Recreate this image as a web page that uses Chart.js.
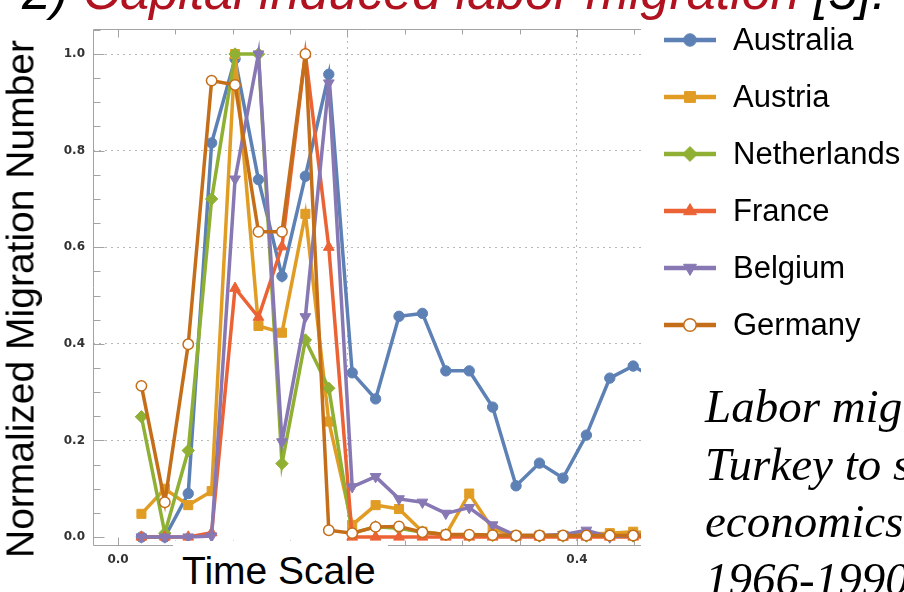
<!DOCTYPE html>
<html>
<head>
<meta charset="utf-8">
<script src="https://cdn.jsdelivr.net/npm/chart.js@4.4.1/dist/chart.umd.min.js"></script>
<style>
  html, body { margin: 0; padding: 0; background: #fff; overflow: hidden; }
  #wrap { position: relative; width: 904px; height: 592px; overflow: hidden; }
  canvas { position: absolute; left: 0; top: 0; }
  .txt { position: absolute; white-space: nowrap; color: #000; }
  #heading { left: 22px; top: -35px; font: italic 52px "Liberation Sans", Arial, sans-serif; line-height: 52px; }
  #heading .red { color: #b0121f; }
  #ytitle { left: 20px; top: 299px; font: 39px "Liberation Sans", Arial, sans-serif; line-height: 39px;
            transform: translate(-50%, -50%) rotate(-90deg); }
  #xcover { position: absolute; left: 173px; top: 541px; width: 215px; height: 51px; background: #fff; }
  #xtitle { left: 182px; top: 551px; font: 39px "Liberation Sans", Arial, sans-serif; line-height: 39px; }
  #note { left: 705px; top: 378px; font: italic 47px "Liberation Serif", "Times New Roman", serif; line-height: 57.5px; }
</style>
</head>
<body>
<div id="wrap">
  <canvas id="chart" width="904" height="592"></canvas>
  <div class="txt" id="heading">2) <span class="red">Capital induced labor migration</span> [5].</div>
  <div class="txt" id="ytitle">Normalized Migration Number</div>
  <div id="xcover"></div>
  <div class="txt" id="xtitle">Time Scale</div>
  <div class="txt" id="note">Labor migration from<br>Turkey to several<br>economics<br>1966-1990</div>
</div>
<script>
// time scale positions of the yearly samples
const timeScale = [0.0204, 0.0408, 0.0612, 0.0816, 0.1020, 0.1224, 0.1429, 0.1633, 0.1837, 0.2041,
  0.2245, 0.2449, 0.2653, 0.2857, 0.3061, 0.3265, 0.3469, 0.3673, 0.3878, 0.4082, 0.4286, 0.4490, 0.4694];

const australia = [0.0, 0.0, 0.09, 0.816, 0.99, 0.74, 0.54, 0.747, 0.958, 0.34, 0.286, 0.457,
  0.463, 0.344, 0.344, 0.269, 0.106, 0.153, 0.122, 0.211, 0.329, 0.354, 0.326];
const austria = [0.048, 0.10, 0.066, 0.095, 1.0, 0.437, 0.423, 0.669, 0.239, 0.025, 0.066, 0.058,
  0.011, 0.005, 0.09, 0.016, 0.003, 0.003, 0.003, 0.006, 0.008, 0.011, 0.008];
const netherlands = [0.249, 0.008, 0.179, 0.70, 1.0, 1.0, 0.152, 0.408, 0.308, 0.008, 0.021, 0.018,
  0.01, 0.005, 0.003, 0.003, 0.002, 0.002, 0.002, 0.002, 0.002, 0.002, 0.002];
const france = [0.0, 0.0, 0.0, 0.009, 0.515, 0.455, 0.601, 1.0, 0.60, 0.0, 0.0, 0.0,
  0.0, 0.0, 0.0, 0.0, 0.0, 0.0, 0.0, 0.0, 0.0, 0.0, 0.0];
const belgium = [0.0, 0.0, 0.0, 0.002, 0.741, 1.0, 0.197, 0.456, 0.94, 0.104, 0.125, 0.079,
  0.072, 0.049, 0.061, 0.025, 0.003, 0.003, 0.005, 0.014, 0.0, 0.004, 0.003];
const germany = [0.313, 0.072, 0.399, 0.945, 0.936, 0.632, 0.632, 1.0, 0.014, 0.008, 0.021, 0.022,
  0.01, 0.005, 0.005, 0.004, 0.003, 0.003, 0.003, 0.003, 0.003, 0.003, 0.003];

const countries = ["Australia", "Austria", "Netherlands", "France", "Belgium", "Germany"];
const seriesValues = [australia, austria, netherlands, france, belgium, germany];

const styles = [
  { color: "#5e81b5", point: "circle", r: 5.2 },
  { color: "#e19c24", point: "rect", r: 6.4 },
  { color: "#8fb032", point: "rectRot", r: 6.2 },
  { color: "#eb6235", point: "triangle", r: 6.2 },
  { color: "#8778b3", point: "triangle", r: 6.2, rot: 180 },
  { color: "#c56e1a", point: "circle", r: 5.2, hollow: true },
];

const isMajor = (v) => Math.abs(v * 5 - Math.round(v * 5)) < 1e-6;
const tickFont = { family: "DejaVu Sans", size: 12, weight: "bold" };

const framePlugin = {
  id: "frame",
  beforeDatasetsDraw(chart) {
    const { ctx, chartArea: a, scales: { x, y } } = chart;
    const L = Math.round(a.left) + 0.5, T = Math.round(a.top) + 0.5, B = Math.round(a.bottom) - 0.5;
    ctx.save();
    ctx.strokeStyle = "#a3a3a3";
    ctx.lineWidth = 1;
    ctx.beginPath();
    ctx.moveTo(a.right, T); ctx.lineTo(L, T); ctx.lineTo(L, B); ctx.lineTo(a.right, B);
    x.ticks.forEach((t) => {
      const px = Math.round(x.getPixelForValue(t.value)) + 0.5;
      const len = isMajor(t.value) ? 8 : 5;
      ctx.moveTo(px, B); ctx.lineTo(px, B - len);
      ctx.moveTo(px, T); ctx.lineTo(px, T + len);
    });
    y.ticks.forEach((t) => {
      const py = Math.round(y.getPixelForValue(t.value)) + 0.5;
      const len = isMajor(t.value) ? 11 : 7;
      ctx.moveTo(L, py); ctx.lineTo(L + len, py);
    });
    ctx.stroke();
    ctx.restore();
  },
};

const legendPlugin = {
  id: "sideLegend",
  afterDraw(chart) {
    const ctx = chart.ctx;
    ctx.save();
    chart.data.datasets.forEach((ds, i) => {
      const y = 40 + i * 57;
      ctx.strokeStyle = ds.borderColor;
      ctx.lineWidth = 4.5;
      ctx.beginPath(); ctx.moveTo(664, y); ctx.lineTo(716, y); ctx.stroke();
      ctx.fillStyle = ds.pointBackgroundColor;
      ctx.strokeStyle = ds.pointBorderColor;
      ctx.lineWidth = ds.pointBorderWidth;
      Chart.helpers.drawPoint(ctx, {
        pointStyle: ds.pointStyle, rotation: ds.pointRotation,
        radius: ds.pointRadius * 1.2, borderWidth: ds.pointBorderWidth,
      }, 690, y);
      ctx.fillStyle = "#000";
      ctx.font = '31px "Liberation Sans", Arial, sans-serif';
      ctx.textBaseline = "alphabetic";
      ctx.fillText(ds.label, 733, y + 10);
    });
    ctx.restore();
  },
};

const datasets = countries.map((name, i) => {
  const s = styles[i];
  return {
    label: name,
    data: timeScale.map((t, k) => ({ x: t, y: seriesValues[i][k] })),
    borderColor: s.color,
    borderWidth: 3.5,
    tension: 0,
    pointStyle: s.point,
    pointRotation: s.rot || 0,
    pointRadius: s.r,
    pointBackgroundColor: s.hollow ? "#ffffff" : s.color,
    pointBorderColor: s.color,
    pointBorderWidth: s.hollow ? 1.5 : 1,
    order: countries.length - i,
    clip: 0,
  };
});

new Chart(document.getElementById("chart"), {
  type: "line",
  data: { datasets },
  options: {
    responsive: false,
    animation: false,
    devicePixelRatio: 1,
    layout: { padding: { left: 0, top: 29, right: 263, bottom: 0 } },
    plugins: { legend: { display: false }, tooltip: { enabled: false } },
    scales: {
      x: {
        type: "linear",
        min: -0.0218,
        max: 0.4558,
        afterFit: (s) => { s.height = 46; },
        border: { display: false, dash: [2, 4] },
        grid: {
          drawTicks: false,
          color: (c) => (c.tick && c.tick.value > 0.001 && isMajor(c.tick.value)) ? "#b8b8b8" : "rgba(0,0,0,0)",
        },
        ticks: {
          stepSize: 0.05,
          includeBounds: false,
          autoSkip: false,
          maxRotation: 0,
          padding: 7,
          color: "#333",
          font: tickFont,
          callback: (v) => (isMajor(v) ? v.toFixed(1) : ""),
        },
      },
      y: {
        min: -0.0186,
        max: 1.0518,
        afterFit: (s) => { s.width = 93; },
        border: { display: false, dash: [2, 4] },
        grid: {
          drawTicks: false,
          color: (c) => (c.tick && c.tick.value > 0.001 && isMajor(c.tick.value)) ? "#b8b8b8" : "rgba(0,0,0,0)",
        },
        ticks: {
          stepSize: 0.05,
          includeBounds: false,
          autoSkip: false,
          padding: 8,
          color: "#333",
          font: tickFont,
          callback: (v) => (isMajor(v) ? v.toFixed(1) : ""),
        },
      },
    },
  },
  plugins: [framePlugin, legendPlugin],
});
</script>
</body>
</html>
